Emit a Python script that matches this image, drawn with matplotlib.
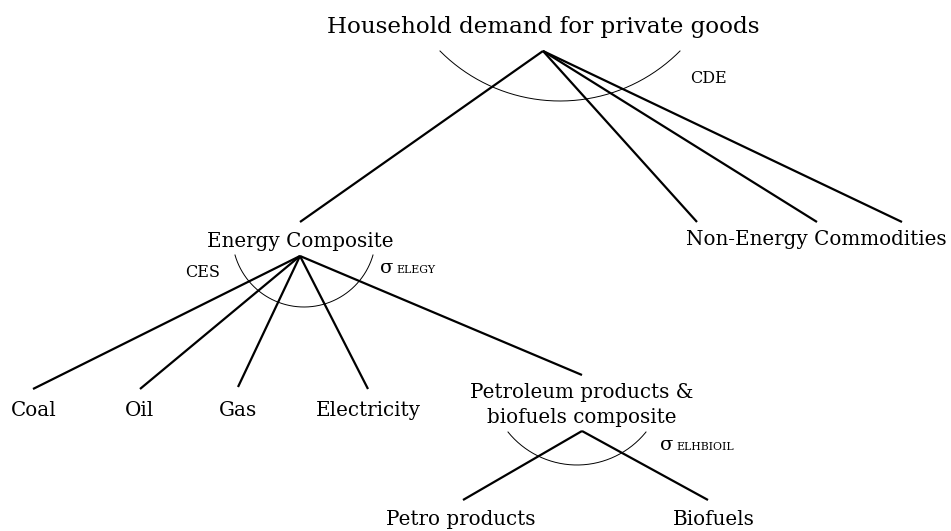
import numpy as np
import matplotlib
matplotlib.use('Agg')
import matplotlib.pyplot as plt

# nodes: label, x centre, text baseline (pixel coords, y down)
labels = ['Household demand for private goods', 'Energy Composite', 'Non-Energy Commodities',
          'Coal', 'Oil', 'Gas', 'Electricity',
          'Petroleum products &\nbiofuels composite', 'Petro products', 'Biofuels']
label_x = [543, 300, 816, 34, 140, 238, 368, 582, 461, 714]
label_y = [33, 247, 245, 416, 416, 416, 416, 398, 525, 525]
label_size = [16.6, 14.3, 14.3, 14.3, 14.3, 14.3, 14.3, 14.3, 14.3, 14.3]

# branch lines: start -> end
edge_x0 = [543, 543, 543, 543, 300, 300, 300, 300, 300, 582, 582]
edge_y0 = [51, 51, 51, 51, 256, 256, 256, 256, 256, 431, 431]
edge_x1 = [300, 697, 817, 902, 33, 140, 238, 368, 582, 463, 708]
edge_y1 = [222, 222, 222, 222, 389, 389, 387, 389, 375, 500, 500]

# elasticity arcs: left x, right x, end y, bottom y
arc_l = [440, 235, 508]
arc_r = [680, 373, 646]
arc_top = [51, 255, 432]
arc_bot = [101, 307, 465]


def draw_arc(ax, x0, x1, y, yb):
    a = (x1 - x0) / 2
    s = yb - y
    R = (a * a + s * s) / (2 * s)
    cx = (x0 + x1) / 2
    cy = yb - R
    pm = np.arcsin(a / R)
    t = np.linspace(-pm, pm, 200)
    ax.plot(cx + R * np.sin(t), cy + R * np.cos(t), color='black', lw=0.7)


fig = plt.figure(figsize=(9.51, 5.31), dpi=100)
ax = fig.add_axes([0, 0, 1, 1])
ax.set_xlim(0, 951)
ax.set_ylim(531, 0)
ax.axis('off')

serif = 'DejaVu Serif'

for i in range(len(edge_x0)):
    ax.plot([edge_x0[i], edge_x1[i]], [edge_y0[i], edge_y1[i]], color='black', lw=1.6,
            solid_capstyle='butt')

for i in range(len(arc_l)):
    draw_arc(ax, arc_l[i], arc_r[i], arc_top[i], arc_bot[i])

for i in range(len(labels)):
    if '\n' in labels[i]:
        first, second = labels[i].split('\n')
        ax.text(label_x[i], label_y[i], first, ha='center', va='baseline',
                fontsize=label_size[i], family=serif)
        ax.text(label_x[i], label_y[i] + 25, second, ha='center', va='baseline',
                fontsize=label_size[i], family=serif)
    else:
        ax.text(label_x[i], label_y[i], labels[i], ha='center', va='baseline',
                fontsize=label_size[i], family=serif)

# function type labels
ax.text(690, 83, 'CDE', ha='left', va='baseline', fontsize=11.5, family=serif)
ax.text(185, 277, 'CES', ha='left', va='baseline', fontsize=11.5, family=serif)

# sigma labels with small-caps subscripts
ax.text(380, 273, '\u03c3', ha='left', va='baseline', fontsize=14, family=serif)
ax.text(396, 273, 'ELEGY', ha='left', va='baseline', fontsize=7.8, family=serif)
ax.text(660, 450, '\u03c3', ha='left', va='baseline', fontsize=14, family=serif)
ax.text(676, 450, 'ELHBIOIL', ha='left', va='baseline', fontsize=7.8, family=serif)

fig.savefig('out.png', dpi=100)
